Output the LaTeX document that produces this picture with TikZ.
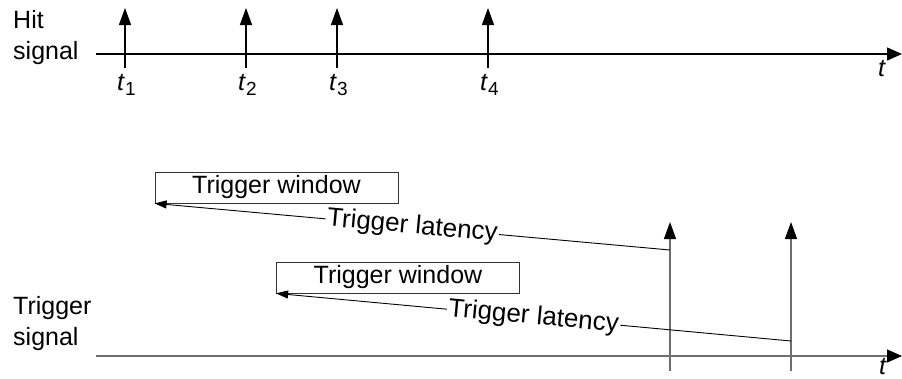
\documentclass[tikz,border=0pt]{standalone}
\usepackage{fontspec}
\setmainfont{Liberation Sans}
\usetikzlibrary{arrows.meta}
\definecolor{axisgray}{HTML}{6E6E6E}
\newcommand{\tsub}[1]{\textit{t}\raisebox{-0.4ex}{\fontsize{19}{19}\selectfont #1}}
\begin{document}
\begin{tikzpicture}[x=1pt,y=-1pt,
  font=\fontsize{25}{31}\selectfont,
  spike/.style={line width=1.3pt,-{Triangle[width=12pt,length=17pt,color=black]}},
  timeaxis/.style={line width=1.3pt,-{Triangle[width=13pt,length=15pt,color=black]}},
  lower/.style={draw=axisgray},
  latency/.style={line width=0.9pt,{Triangle[width=8pt,length=12pt]}-},
  winbox/.style={draw=black!80,line width=0.8pt,minimum width=243pt,minimum height=31pt,inner sep=0pt},
  lbl/.style={align=left,anchor=north west,inner sep=0pt},
  tick/.style={anchor=base west,inner sep=0pt}]
\useasboundingbox (0,0) rectangle (902,378);

% ---- hit signal ----
\node[lbl] (hitlbl) at (13,10) {Hit\\signal};
\coordinate (ha0) at (96,54);
\coordinate (ha1) at (902,54);
\draw[timeaxis] (ha0) -- (ha1);
\node[tick] (ht) at (878,76) {\textit{t}};
\foreach \n/\x in {1/125,2/246,3/337,4/488}{
  \coordinate (hb\n) at (\x,68);
  \coordinate (hp\n) at (\x,8);
  \draw[spike] (hb\n) -- (hp\n);
  \node[tick] (hl\n) at (\x-8,90) {\tsub{\n}};
}

% ---- trigger signal ----
\node[lbl] (trglbl) at (13,296) {Trigger\\signal};
\coordinate (ta0) at (96,356);
\coordinate (ta1) at (902,356);
\draw[timeaxis,lower] (ta0) -- (ta1);
\node[tick] (tt) at (879,374) {\textit{t}};
\foreach \n/\x in {1/670,2/791}{
  \coordinate (tb\n) at (\x,371);
  \coordinate (tp\n) at (\x,222);
  \draw[spike,lower,line width=1.2pt] (tb\n) -- (tp\n);
}
\coordinate (tm1) at (670,250);
\coordinate (tm2) at (791,341);

% ---- trigger windows and latencies ----
\node[winbox] (w1) at (276.5,187.5) {Trigger window};
\node[winbox] (w2) at (398,277.5) {Trigger window};
\draw[latency] (w1.south west) -- node[sloped,fill=white,inner sep=1.5pt,font=\fontsize{26}{31}\selectfont] (lat1) {Trigger latency} (tm1);
\draw[latency] (w2.south west) -- node[sloped,fill=white,inner sep=1.5pt,font=\fontsize{26}{31}\selectfont] (lat2) {Trigger latency} (tm2);
\end{tikzpicture}
\end{document}
